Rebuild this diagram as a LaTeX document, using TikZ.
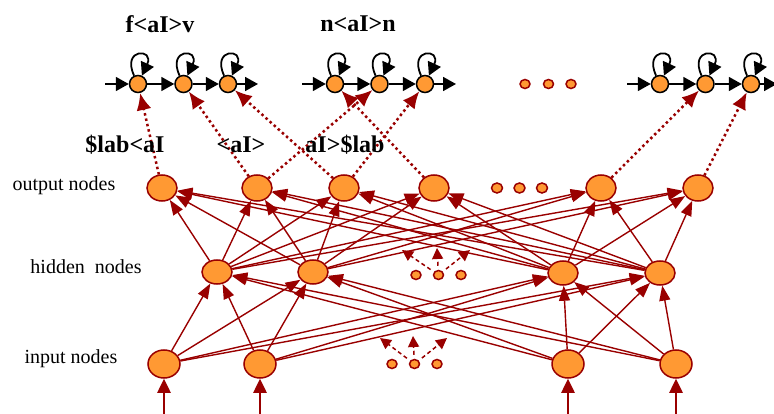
\documentclass[tikz,border=0pt]{standalone}
\usepackage{fontspec}
\setmainfont{Liberation Serif}
\usetikzlibrary{positioning,shapes.geometric,arrows.meta}
\definecolor{unitfill}{HTML}{FF9933}
\definecolor{linkred}{HTML}{990000}
\tikzset{unit node/.style={ellipse,fill=unitfill,draw=linkred,line width=1.5pt,minimum width=32pt,minimum height=28pt,inner sep=0pt},
hid node/.style={unit node,minimum width=30pt,minimum height=24pt},
out node/.style={unit node,minimum width=30pt,minimum height=26pt},
dot node/.style={ellipse,fill=unitfill,draw=linkred,line width=1.5pt,minimum width=10pt,minimum height=9pt,inner sep=0pt},
state node/.style={circle,fill=unitfill,draw=black,line width=1.5pt,minimum size=17pt,inner sep=0pt},
layer label/.style={font=\fontsize{20}{23}\selectfont},
phone label/.style={font=\fontsize{24}{28}\selectfont\bfseries},
link/.style={color=linkred,line width=1.4pt,>={Triangle[length=15pt,width=11pt]},->},
feed/.style={color=linkred,line width=2.5pt,>={Triangle[length=14pt,width=13pt]},->},
emit/.style={color=linkred,line width=2.5pt,dash pattern=on 2.5pt off 3pt,>={Latex[length=17pt,width=15pt]},->},
more/.style={color=linkred,line width=1.5pt,dash pattern=on 4pt off 3pt,>={Triangle[length=11pt,width=11pt]},->,shorten <=4pt},
trans/.style={color=black,line width=1.8pt,>={Triangle[length=13pt,width=14pt]},->},
self loop/.style={out=115,in=65,min distance=30pt,looseness=10},
}
\begin{document}
\begin{tikzpicture}[x=1pt,y=-1pt]
    \useasboundingbox (0,0) rectangle (774,414);

    % network
    \node[unit node] (i1) at (164,364) {};
    \node[unit node] (i2) at (260,364) {};
    \node[unit node] (i3) at (568,364) {};
    \node[unit node] (i4) at (676,364) {};

    \node[hid node] (h1) at (217,272) {};
    \node[hid node] (h2) at (313,272) {};
    \node[hid node] (h3) at (563,273) {};
    \node[hid node] (h4) at (660,273) {};

    \node[out node] (o1) at (162,188) {};
    \node[out node] (o2) at (257,188) {};
    \node[out node] (o3) at (344,188) {};
    \node[out node] (o4) at (434,188) {};
    \node[out node] (o5) at (601,188) {};
    \node[out node] (o6) at (698,188) {};

    \node[dot node,minimum width=11pt,minimum height=10pt] (od1) at (497,188) {};
    \node[dot node,minimum width=11pt,minimum height=10pt] (od2) [right = 10pt of od1] {};
    \node[dot node,minimum width=11pt,minimum height=10pt] (od3) [right = 10pt of od2] {};

    \node[dot node] (hd1) at (416,275) {};
    \node[dot node] (hd2) [right = 11pt of hd1] {};
    \node[dot node] (hd3) [right = 11pt of hd2] {};
    \coordinate (hu1) at (402,250);
    \coordinate (hu2) at (437,248);
    \coordinate (hu3) at (470,250);

    \node[dot node] (id1) at (392,364) {};
    \node[dot node] (id2) [right = 11pt of id1] {};
    \node[dot node] (id3) [right = 11pt of id2] {};
    \coordinate (iu1) at (380,338);
    \coordinate (iu2) at (413,336);
    \coordinate (iu3) at (447,338);

    \path[more]
    (hd2) edge (hu1) (hd2) edge (hu2) (hd2) edge (hu3)
    (id2) edge (iu1) (id2) edge (iu2) (id2) edge (iu3)
    ;

    \path[link]
    (i1) edge (h1) (i1) edge (h2) (i1) edge (h3) (i1) edge (h4)
    (i2) edge (h1) (i2) edge (h2) (i2) edge (h3) (i2) edge (h4)
    (i3) edge (h1) (i3) edge (h2) (i3) edge (h3) (i3) edge (h4)
    (i4) edge (h1) (i4) edge (h2) (i4) edge (h3) (i4) edge (h4)
    (h1) edge (o1) (h1) edge (o2) (h1) edge (o3) (h1) edge (o4) (h1) edge (o5) (h1) edge (o6)
    (h2) edge (o1) (h2) edge (o2) (h2) edge (o3) (h2) edge (o4) (h2) edge (o5) (h2) edge (o6)
    (h3) edge (o1) (h3) edge (o2) (h3) edge (o3) (h3) edge (o4) (h3) edge (o5) (h3) edge (o6)
    (h4) edge (o1) (h4) edge (o2) (h4) edge (o3) (h4) edge (o4) (h4) edge (o5) (h4) edge (o6)
    ;

    \coordinate (x1) at (164,416);
    \coordinate (x2) at (260,416);
    \coordinate (x3) at (568,416);
    \coordinate (x4) at (676,416);
    \path[feed]
    (x1) edge (i1) (x2) edge (i2) (x3) edge (i3) (x4) edge (i4)
    ;

    % phone models
    \node[state node] (f1) at (138,84) {};
    \node[state node] (f2) [right = 27pt of f1] {};
    \node[state node] (f3) [right = 26pt of f2] {};
    \coordinate (fin) at (105,84);
    \coordinate (fout) at (258,84);

    \node[state node] (n1) at (335,84) {};
    \node[state node] (n2) [right = 26pt of n1] {};
    \node[state node] (n3) [right = 27pt of n2] {};
    \coordinate (nin) at (302,84);
    \coordinate (nout) at (456,84);

    \node[state node] (e1) at (660,84) {};
    \node[state node] (e2) [right = 27pt of e1] {};
    \node[state node] (e3) [right = 27pt of e2] {};
    \coordinate (ein) at (627,84);
    \coordinate (eout) at (777,84);

    \node[dot node] (td1) at (525,84) {};
    \node[dot node] (td2) [right = 12pt of td1] {};
    \node[dot node] (td3) [right = 11pt of td2] {};

    \path[trans]
    (fin) edge (f1) (f1) edge (f2) (f2) edge (f3) (f3) edge (fout)
    (nin) edge (n1) (n1) edge (n2) (n2) edge (n3) (n3) edge (nout)
    (ein) edge (e1) (e1) edge (e2) (e2) edge (e3) (e3) edge (eout)
    (f1) edge[self loop] (f1) (f2) edge[self loop] (f2) (f3) edge[self loop] (f3)
    (n1) edge[self loop] (n1) (n2) edge[self loop] (n2) (n3) edge[self loop] (n3)
    (e1) edge[self loop] (e1) (e2) edge[self loop] (e2) (e3) edge[self loop] (e3)
    ;

    \path[emit]
    (o1) edge (f1)
    (o2) edge (f2) (o2) edge (n2)
    (o3) edge (f3) (o3) edge (n3)
    (o4) edge (n1)
    (o5) edge (e2)
    (o6) edge (e3)
    ;

    % labels
    \node[phone label] (fav) at (160,24) {f<aI>v};
    \node[phone label] (nan) at (358,24) {n<aI>n};
    \node[phone label] (lai) at (125,145) {\$lab<aI};
    \node[phone label] (ai) at (241,145) {<aI>};
    \node[phone label] (ail) at (345,145) {aI>\$lab};

    \node[layer label] (outlab) at (64,186) {output nodes};
    \node[layer label] (hidlab) at (86,267) {hidden\ \ nodes};
    \node[layer label] (inlab) at (71,359) {input nodes};
\end{tikzpicture}
\end{document}
